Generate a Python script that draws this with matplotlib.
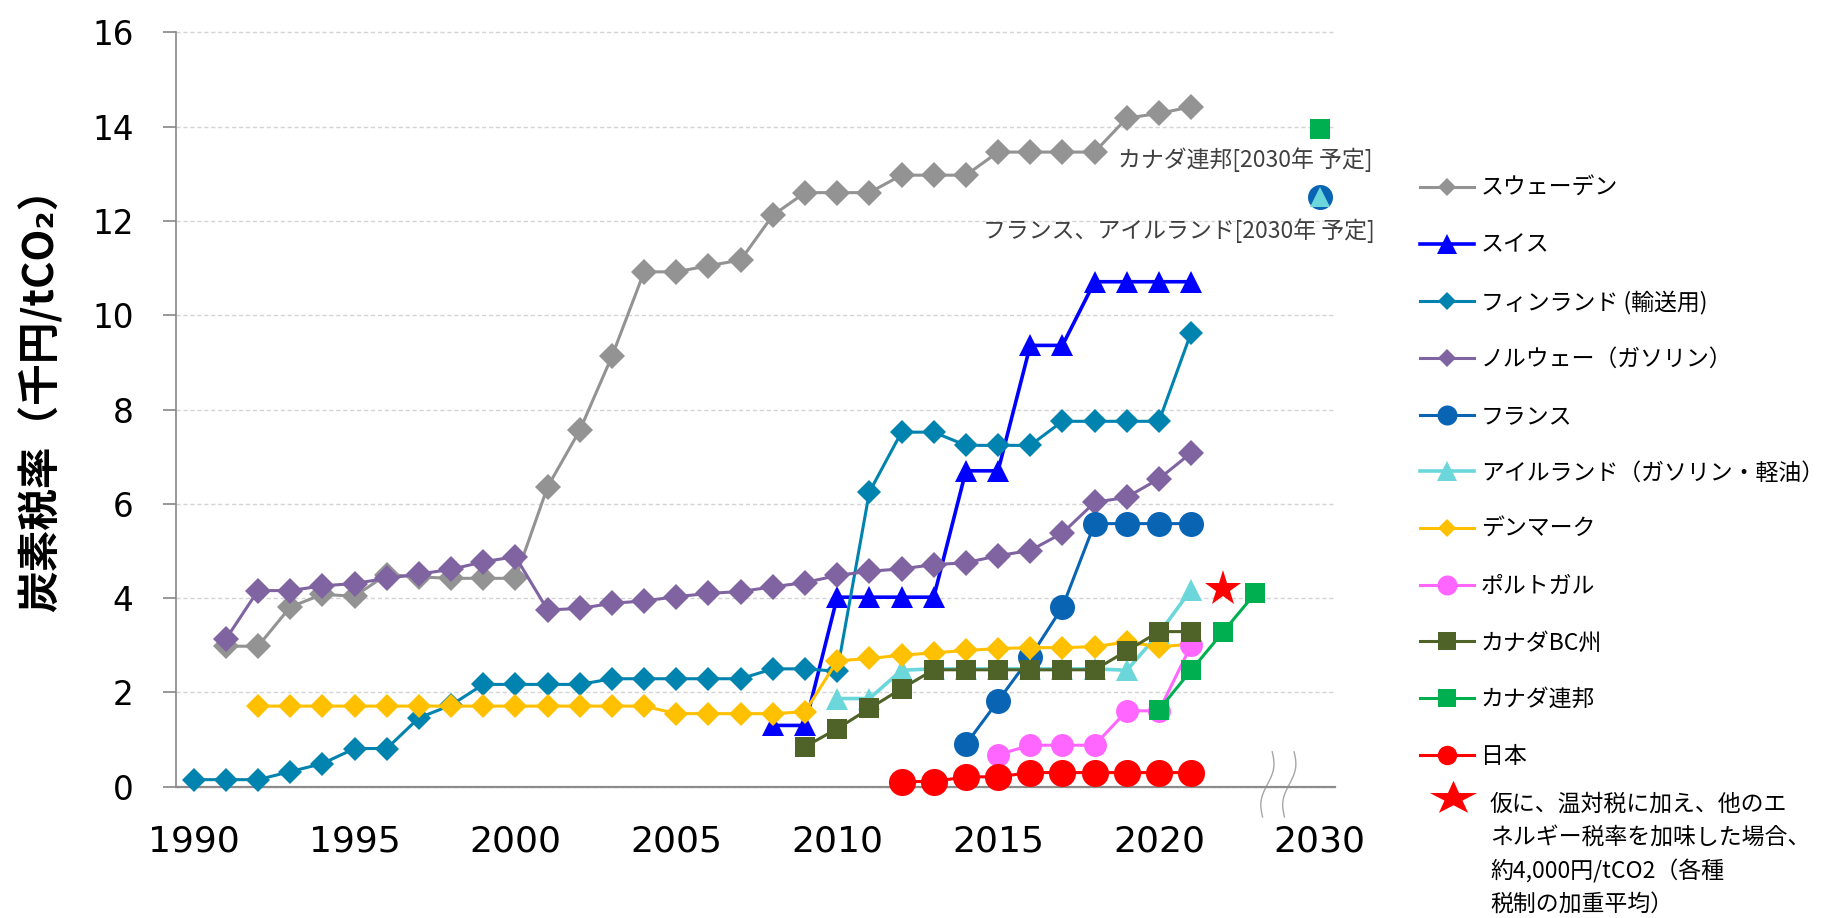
import numpy as np
import matplotlib
matplotlib.use("Agg")
import matplotlib.pyplot as plt
from matplotlib.lines import Line2D

JP = ['Noto Sans CJK JP', 'DejaVu Sans']
plt.rcParams['font.family'] = JP

# ---------------- data ----------------
categories = list(range(1990, 2025)) + [2030]
tick_years = [1990, 1995, 2000, 2005, 2010, 2015, 2020, 2030]

sweden_years = list(range(1991, 2022))
sweden = [2.98, 2.98, 3.81, 4.08, 4.04, 4.5, 4.45, 4.42, 4.42, 4.42,
          6.36, 7.56, 9.13, 10.92, 10.92, 11.05, 11.17, 12.12, 12.6, 12.6,
          12.6, 12.97, 12.97, 12.97, 13.46, 13.46, 13.46, 13.46, 14.18, 14.28, 14.42]

swiss_years = list(range(2008, 2022))
swiss = [1.3, 1.3, 4.02, 4.02, 4.02, 4.02, 6.7, 6.7, 9.36, 9.36, 10.71, 10.71, 10.71, 10.71]

finland_years = list(range(1990, 2022))
finland = [0.15, 0.15, 0.15, 0.32, 0.49, 0.81, 0.81, 1.46, 1.73, 2.17,
           2.17, 2.17, 2.17, 2.29, 2.29, 2.29, 2.29, 2.29, 2.5, 2.5,
           2.45, 6.25, 7.52, 7.52, 7.24, 7.24, 7.24, 7.75, 7.75, 7.75, 7.75, 9.63]

norway_years = list(range(1991, 2022))
norway = [3.13, 4.16, 4.16, 4.26, 4.31, 4.42, 4.51, 4.61, 4.77, 4.88,
          3.75, 3.78, 3.89, 3.94, 4.03, 4.10, 4.14, 4.24, 4.33, 4.48,
          4.57, 4.62, 4.71, 4.75, 4.9, 5.01, 5.38, 6.03, 6.14, 6.53, 7.08]

france_years = list(range(2014, 2022))
france = [0.9, 1.82, 2.75, 3.81, 5.58, 5.58, 5.58, 5.58]

ireland_years = list(range(2010, 2022))
ireland = [1.87, 1.87, 2.47, 2.5, 2.5, 2.5, 2.5, 2.5, 2.5, 2.47, 3.25, 4.18]

denmark_years = list(range(1992, 2022))
denmark = [1.71] * 13 + [1.55, 1.55, 1.55, 1.55, 1.59,
                         2.67, 2.72, 2.79, 2.84, 2.89, 2.93, 2.95, 2.95, 2.97, 3.07, 2.97, 3.02]

portugal_years = list(range(2015, 2022))
portugal = [0.68, 0.88, 0.88, 0.88, 1.61, 1.61, 3.0]

bc_years = list(range(2009, 2022))
bc = [0.85, 1.23, 1.66, 2.08, 2.48, 2.48, 2.48, 2.48, 2.48, 2.48, 2.88, 3.29, 3.29]

fed_years = list(range(2020, 2024))
fed = [1.63, 2.47, 3.29, 4.11]

japan_years = list(range(2012, 2022))
japan = [0.11, 0.11, 0.21, 0.21, 0.3, 0.3, 0.3, 0.3, 0.3, 0.3]

target_year = 2030
fed_2030 = 13.94
france_2030 = 12.5
ireland_2030 = 12.5

star_year = 2022
star_value = 4.2

labels = ['スウェーデン', 'スイス', 'フィンランド (輸送用)', 'ノルウェー（ガソリン）', 'フランス',
          'アイルランド（ガソリン・軽油）', 'デンマーク', 'ポルトガル', 'カナダBC州', 'カナダ連邦', '日本']
note_text = '仮に、温対税に加え、他のエ\nネルギー税率を加味した場合、\n約4,000円/tCO2（各種\n税制の加重平均）'
fed_note = 'カナダ連邦[2030年 予定]'
fr_ie_note = 'フランス、アイルランド[2030年 予定]'
ylabel = '炭素税率（千円/tCO₂）'


def idx(years):
    return [categories.index(y) for y in years]


# ---------------- styles ----------------
# (years, values, color, marker, plot size, legend size, linewidth)
series = [
    (sweden_years, sweden, '#939393', 'D', 13.5, 8.7, 2.2),
    (swiss_years, swiss, '#0000FF', '^', 16.5, 14.4, 2.6),
    (finland_years, finland, '#0083AE', 'D', 12, 8.7, 2.2),
    (norway_years, norway, '#8064A2', 'D', 13, 8.7, 2.2),
    (france_years, france, '#0A64B4', 'o', 18, 14.4, 2.2),
    (ireland_years, ireland, '#6CD7DB', '^', 16, 14.4, 2.6),
    (denmark_years, denmark, '#FFC000', 'D', 12.5, 8.7, 2.2),
    (portugal_years, portugal, '#FF66FF', 'o', 16.5, 14.4, 2.2),
    (bc_years, bc, '#4F6228', 's', 14, 13.5, 2.2),
    (fed_years, fed, '#00B050', 's', 14, 13.5, 2.2),
    (japan_years, japan, '#FF0000', 'o', 19.5, 14, 2.2),
]

fig = plt.figure(figsize=(18.33, 9.18), dpi=100)
ax = fig.add_axes([0.0960, 0.1430, 0.6323, 0.8218])

for k, (yrs, vals, col, mk, ms, lms, lw) in enumerate(series):
    ax.plot(idx(yrs), vals, color=col, marker=mk, markersize=ms, lw=lw,
            mfc=col, mec=col, mew=0, zorder=3 + k * 0.1, clip_on=False)

# 2030 planned values (not connected)
ax.plot(idx([target_year]), [fed_2030], ls='none', marker='s', markersize=14,
        color='#00B050', mew=0, zorder=4, clip_on=False)
ax.plot(idx([target_year]), [france_2030], ls='none', marker='o', markersize=18,
        color='#0A64B4', mew=0, zorder=4, clip_on=False)
ax.plot(idx([target_year]), [ireland_2030], ls='none', marker='^', markersize=15,
        color='#6CD7DB', mew=0, zorder=4.1, clip_on=False)

# red star
ax.plot(idx([star_year]), [star_value], ls='none', marker='*', markersize=27,
        color='#FF0000', mew=0, zorder=5, clip_on=False)

# annotations for 2030
x30 = idx([target_year])[0]
ax.text(x30 + 1.65, fed_2030 - 0.65, fed_note, ha='right', va='center',
        fontsize=16.5, color='#404040', clip_on=False)
ax.text(x30 + 1.72, france_2030 - 0.7, fr_ie_note, ha='right', va='center',
        fontsize=16.5, color='#404040', clip_on=False)

# axes styling
ax.set_xlim(-0.55, 35.47)
ax.set_ylim(0, 16)
ax.set_yticks(np.arange(0, 17, 2))
ax.set_yticklabels([str(v) for v in range(0, 17, 2)], family='DejaVu Sans', fontsize=23.5)
ax.set_xticks(idx(tick_years))
ax.set_xticklabels([str(y) for y in tick_years], family='DejaVu Sans', fontsize=26)
ax.tick_params(axis='x', length=0, pad=27)
ax.tick_params(axis='y', length=9.5, width=1.2, color='#868686', pad=21, direction='out')
for s in ['top', 'right']:
    ax.spines[s].set_visible(False)
ax.spines['left'].set_color('#868686')
ax.spines['left'].set_linewidth(1.2)
ax.spines['bottom'].set_color('#8C8C8C')
ax.spines['bottom'].set_linewidth(1.6)
ax.yaxis.grid(True, color='#D4D4D4', lw=1.0, ls=(0, (3, 2)))
ax.set_axisbelow(True)
for gl in ax.get_ygridlines():
    gl.set_clip_on(False)

# axis break marks
t = np.linspace(0, 1, 60)
by = 0.74 - 1.38 * t
for c in (33.37, 34.05):
    bx = c + 0.15 - 0.3 * t + 0.12 * np.sin(2 * np.pi * t)
    ax.plot(bx, by, color='#A6A6A6', lw=1.0, zorder=2, clip_on=False)

# y label
fig.text(41 / 1833, 1 - 390 / 918, ylabel, rotation=90, ha='center', va='center',
         fontsize=30, fontweight='bold', family=JP)

# legend
handles = [Line2D([], [], color=col, marker=mk, markersize=lms, lw=lw, mfc=col, mec=col, mew=0)
           for (yrs, vals, col, mk, ms, lms, lw) in series]
fig.legend(handles, labels, loc='upper left', bbox_to_anchor=(1420 / 1833, 1 - 177 / 918),
           frameon=False, fontsize=16.5, borderpad=0, borderaxespad=0,
           handlelength=2.35, handletextpad=0.3, labelspacing=1.47)

# note with star (horizontally stretched star)
star_verts = [(1.4 * r * np.sin(a), r * np.cos(a))
              for r, a in [((1.0 if j % 2 == 0 else 0.381966), j * np.pi / 5) for j in range(10)]]
fig.add_artist(Line2D([1453 / 1833], [1 - 798 / 918], transform=fig.transFigure,
                      marker=star_verts, markersize=34, color='#FF0000', mew=0, ls='none'))
fig.text(1490 / 1833, 1 - 793 / 918, note_text, ha='left', va='top', fontsize=16.5,
         linespacing=1.55, color='black')

fig.savefig('out.png', dpi=100)
